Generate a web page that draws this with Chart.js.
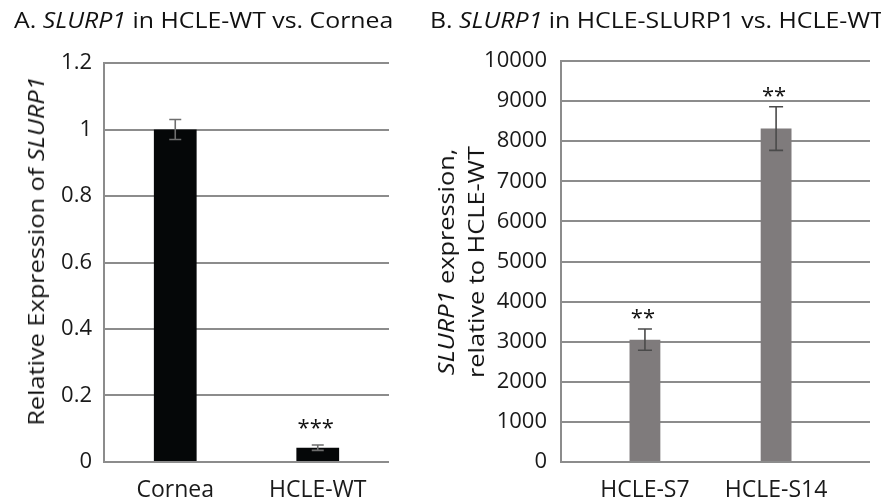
<!DOCTYPE html>
<html>
<head>
<meta charset="utf-8">
<script src="https://cdn.jsdelivr.net/npm/chart.js@4"></script>
<style>
  body { margin: 0; background: #fff; width: 881px; height: 504px; overflow: hidden; position: relative;
         font-family: 'Open Sans', sans-serif; color: #111; }
  .caja { position: absolute; top: 0; height: 504px; }
  #cajaA { left: 0; width: 440px; }
  #cajaB { left: 440px; width: 441px; }
  .titulo { position: absolute; font-size: 22px; line-height: 22px; white-space: nowrap; top: 8px;
            transform: scaleX(1.13); transform-origin: left center; }
  .ytit { position: absolute; font-size: 22px; line-height: 30px; white-space: nowrap; text-align: center;
          transform: translate(-50%, -50%) rotate(-90deg) scaleX(1.15); }
</style>
</head>
<body>

<div class="caja" id="cajaA"><canvas id="chartA" width="440" height="504"></canvas></div>
<div class="caja" id="cajaB"><canvas id="chartB" width="441" height="504"></canvas></div>

<div class="titulo" style="left:14px">A. <i>SLURP1</i> in HCLE-WT vs. Cornea</div>
<div class="titulo" style="left:430px">B. <i>SLURP1</i> in HCLE-SLURP1 vs. HCLE-WT</div>
<div class="ytit" style="left:35px; top:251px">Relative Expression of <i>SLURP1</i></div>
<div class="ytit" style="left:460px; top:262px"><i>SLURP1</i> expression,<br>relative to HCLE-WT</div>

<script>
// ==========================
// Datos
// ==========================

// Panel A
const categoriasA = ['Cornea', 'HCLE-WT'];
const valoresA = [1.0, 0.043];
const erroresA = [0.03, 0.008];
const signifA = ['', '***'];
const ticksA = [0, 0.2, 0.4, 0.6, 0.8, 1, 1.2];

// Panel B
const categoriasB = ['HCLE-S7', 'HCLE-S14'];
const valoresB = [3050, 8315];
const erroresB = [265, 545];
const signifB = ['**', '**'];
const ticksB = [0, 1000, 2000, 3000, 4000, 5000, 6000, 7000, 8000, 9000, 10000];

// ==========================
// Estilos comunes
// ==========================

const FUENTE = "'Open Sans', sans-serif";
const GRIS_REJILLA = '#8c8c8c';

// Barras de error + asteriscos
const barrasError = {
    id: 'barrasError',
    afterDatasetsDraw(chart, args, opts) {
        const ctx = chart.ctx;
        const y = chart.scales.y;
        chart.getDatasetMeta(0).data.forEach((bar, i) => {
            const v = opts.valores[i], e = opts.errores[i];
            const yTop = y.getPixelForValue(v + e);
            const yBot = y.getPixelForValue(v - e);
            ctx.save();
            ctx.strokeStyle = opts.color;
            ctx.lineWidth = 1.6;
            ctx.beginPath();
            ctx.moveTo(bar.x, yTop); ctx.lineTo(bar.x, yBot);
            ctx.moveTo(bar.x - opts.cap, yTop); ctx.lineTo(bar.x + opts.cap, yTop);
            ctx.moveTo(bar.x - opts.cap, yBot); ctx.lineTo(bar.x + opts.cap, yBot);
            ctx.stroke();
            if (opts.signif[i]) {
                ctx.fillStyle = '#111';
                ctx.font = '22px ' + FUENTE;
                ctx.textAlign = 'center';
                ctx.textBaseline = 'alphabetic';
                ctx.fillText(opts.signif[i], bar.x - 2, yTop - opts.sep + 12);
            }
            ctx.restore();
        });
    }
};

function ejeY(min, max, lista, ancho, padding) {
    return {
        min: min, max: max,
        afterBuildTicks: s => { s.ticks = lista.map(v => ({ value: v })); },
        afterFit: s => { s.width = ancho; },
        ticks: {
            color: '#1a1a1a', font: { family: FUENTE, size: 22 }, padding: padding,
            callback: v => String(v)
        },
        grid: { color: GRIS_REJILLA, lineWidth: 2, drawTicks: false },
        border: { color: GRIS_REJILLA, width: 2 }
    };
}

// ==========================
// Gráfico A
// ==========================

new Chart(document.getElementById('chartA'), {
    type: 'bar',
    data: {
        labels: categoriasA,
        datasets: [{
            data: valoresA,
            backgroundColor: '#050708',
            categoryPercentage: 1,
            barPercentage: 0.30
        }]
    },
    options: {
        responsive: false,
        animation: false,
        layout: { padding: { left: 0, right: 51, top: 63, bottom: 0 } },
        plugins: {
            legend: { display: false },
            tooltip: { enabled: false },
            barrasError: { valores: valoresA, errores: erroresA, signif: signifA, color: '#6e6e6e', cap: 6, sep: 22 }
        },
        scales: {
            x: {
                afterFit: s => { s.height = 42; },
                ticks: { color: '#1a1a1a', font: { family: FUENTE, size: 23 }, padding: 7 },
                grid: { display: false },
                border: { display: false }
            },
            y: ejeY(0, 1.2, ticksA, 104, 12)
        }
    },
    plugins: [barrasError]
});

// ==========================
// Gráfico B
// ==========================

new Chart(document.getElementById('chartB'), {
    type: 'bar',
    data: {
        datasets: [{
            data: valoresB.map((v, i) => ({ x: i, y: v })),
            backgroundColor: '#7f7b7c',
            categoryPercentage: 1,
            barPercentage: 0.235
        }]
    },
    options: {
        responsive: false,
        animation: false,
        layout: { padding: { left: 0, right: 11, top: 61, bottom: 0 } },
        plugins: {
            legend: { display: false },
            tooltip: { enabled: false },
            barrasError: { valores: valoresB, errores: erroresB, signif: signifB, color: '#4a4a4a', cap: 7, sep: 16 }
        },
        scales: {
            x: {
                type: 'linear',
                offset: false,
                min: -0.64, max: 1.716,
                afterBuildTicks: s => { s.ticks = categoriasB.map((c, i) => ({ value: i })); },
                afterFit: s => { s.height = 42; },
                ticks: {
                    color: '#1a1a1a', font: { family: FUENTE, size: 23 }, padding: 7,
                    callback: v => categoriasB[v] ?? ''
                },
                grid: { display: false },
                border: { display: false }
            },
            y: ejeY(0, 10000, ticksB, 121, 14)
        }
    },
    plugins: [barrasError]
});
</script>
</body>
</html>
